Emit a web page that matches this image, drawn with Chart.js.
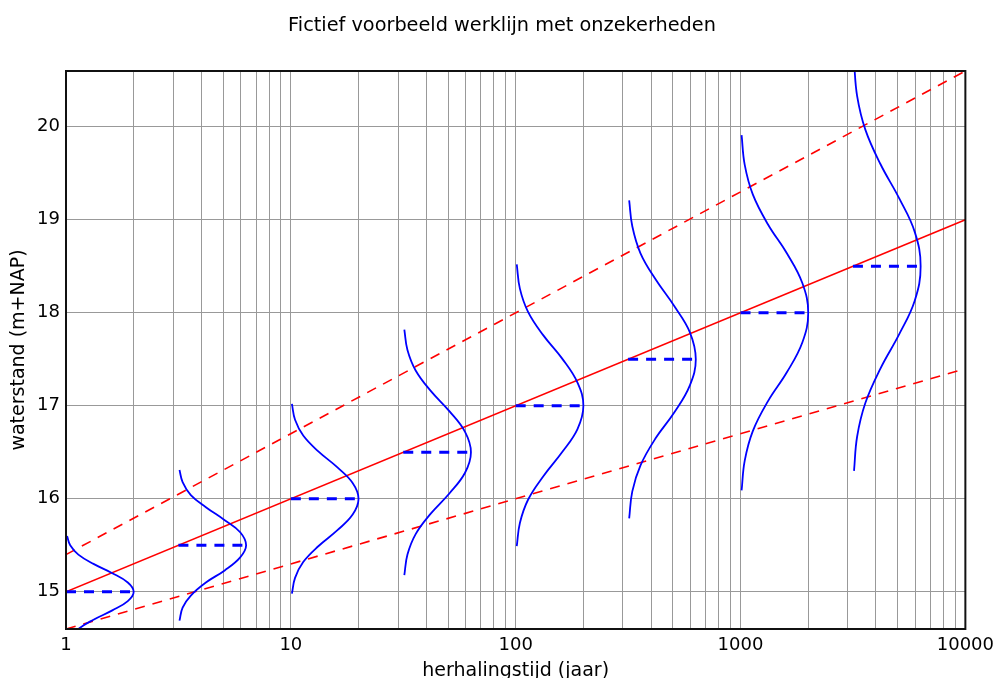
<!DOCTYPE html>
<html>
<head>
<meta charset="utf-8">
<script src="https://cdn.jsdelivr.net/npm/chart.js@4.4.1/dist/chart.umd.min.js"></script>
<style>
  body { margin: 0; background: #fff; }
</style>
</head>
<body>
<canvas id="werklijn" width="1000" height="678"></canvas>
<script>
// werklijn en betrouwbaarheidsgrenzen (twee punten, recht op log-as)
const lijnX = [1, 10000];
const werklijnY = [15, 19];
const bovengrensY = [15.4, 20.6];
const ondergrensY = [14.6, 17.4];

// gemiddelde waterstand per herhalingstijd (gestippelde streepjes)
const streepBeginX = [1, 3.162, 10, 31.62, 100, 316.2, 1000, 3162];
const streepEindX = [2, 6.325, 20, 63.25, 200, 632.5, 2000, 6325];
const streepY = [15, 15.5, 16, 16.5, 17, 17.5, 18, 18.5];

const krommeX = [
    [1.011, 1.044, 1.135, 1.325, 1.607, 1.883, 2.0, 1.883, 1.607, 1.325, 1.135, 1.044, 1.011],
    [3.197, 3.301, 3.590, 4.189, 5.080, 5.953, 6.325, 5.953, 5.080, 4.189, 3.590, 3.301, 3.197],
    [10.11, 10.44, 11.35, 13.25, 16.07, 18.83, 20.0, 18.83, 16.07, 13.25, 11.35, 10.44, 10.11],
    [31.97, 33.01, 35.90, 41.89, 50.80, 59.53, 63.25, 59.53, 50.80, 41.89, 35.90, 33.01, 31.97],
    [101.1, 104.4, 113.5, 132.5, 160.7, 188.3, 200, 188.3, 160.7, 132.5, 113.5, 104.4, 101.1],
    [319.7, 330.1, 359.0, 418.9, 508.0, 595.3, 632.5, 595.3, 508.0, 418.9, 359.0, 330.1, 319.7],
    [1011, 1044, 1135, 1325, 1607, 1883, 2000, 1883, 1607, 1325, 1135, 1044, 1011],
    [3197, 3301, 3590, 4189, 5080, 5953, 6325, 5953, 5080, 4189, 3590, 3301, 3197]
];
const krommeY = [
    [14.4, 14.5, 14.6, 14.7, 14.8, 14.9, 15.0, 15.1, 15.2, 15.3, 15.4, 15.5, 15.6],
    [14.69, 14.83, 14.96, 15.10, 15.23, 15.37, 15.5, 15.64, 15.77, 15.91, 16.04, 16.18, 16.31],
    [14.98, 15.15, 15.32, 15.49, 15.66, 15.83, 16.0, 16.17, 16.34, 16.51, 16.68, 16.85, 17.02],
    [15.18, 15.40, 15.62, 15.84, 16.06, 16.28, 16.5, 16.72, 16.94, 17.16, 17.38, 17.60, 17.82],
    [15.49, 15.74, 15.99, 16.24, 16.50, 16.75, 17.0, 17.25, 17.51, 17.76, 18.01, 18.26, 18.52],
    [15.79, 16.08, 16.36, 16.65, 16.93, 17.22, 17.5, 17.79, 18.07, 18.36, 18.64, 18.93, 19.21],
    [16.09, 16.41, 16.73, 17.05, 17.36, 17.68, 18.0, 18.32, 18.64, 18.95, 19.27, 19.59, 19.91],
    [16.30, 16.67, 17.03, 17.40, 17.77, 18.13, 18.5, 18.87, 19.23, 19.60, 19.97, 20.33, 20.70]
];

// as-indeling
const xTickWaarden = [1, 2, 3, 4, 5, 6, 7, 8, 9,
    10, 20, 30, 40, 50, 60, 70, 80, 90,
    100, 200, 300, 400, 500, 600, 700, 800, 900,
    1000, 2000, 3000, 4000, 5000, 6000, 7000, 8000, 9000, 10000];
const xTickLabels = { 1: '1', 10: '10', 100: '100', 1000: '1000', 10000: '10000' };
const yTickWaarden = [15, 16, 17, 18, 19, 20];

const titel = 'Fictief voorbeeld werklijn met onzekerheden';
const lettertype = 'DejaVu Sans';

function punten(xs, ys) {
    return xs.map((x, i) => ({ x: x, y: ys[i] }));
}

const datasets = [];

// blauwe krommen bovenop
krommeX.forEach((xs, k) => {
    datasets.push({
        data: punten(xs, krommeY[k]),
        borderColor: '#0000ff',
        borderWidth: 1.8,
        tension: 0.4,
        pointRadius: 0,
        showLine: true
    });
});

streepY.forEach((y, k) => {
    datasets.push({
        data: punten([streepBeginX[k], streepEindX[k]], [y, y]),
        borderColor: '#0000ff',
        borderWidth: 3,
        borderDash: [10, 8],
        pointRadius: 0,
        showLine: true
    });
});

datasets.push({
    data: punten(lijnX, werklijnY),
    borderColor: '#ff0000',
    borderWidth: 1.6,
    pointRadius: 0,
    showLine: true
});
datasets.push({
    data: punten(lijnX, bovengrensY),
    borderColor: '#ff0000',
    borderWidth: 1.6,
    borderDash: [10, 8],
    pointRadius: 0,
    showLine: true
});
datasets.push({
    data: punten(lijnX, ondergrensY),
    borderColor: '#ff0000',
    borderWidth: 1.6,
    borderDash: [10, 8],
    pointRadius: 0,
    showLine: true
});

// titel (gecentreerd op de figuur) en zwarte kader rond het grafiekgebied
const kader = {
    id: 'kader',
    afterDraw(chart) {
        const { ctx, chartArea } = chart;
        ctx.save();
        ctx.strokeStyle = '#111';
        ctx.lineWidth = 2;
        ctx.strokeRect(chartArea.left, chartArea.top,
            chartArea.right - chartArea.left, chartArea.bottom - chartArea.top);
        ctx.fillStyle = '#000';
        ctx.font = '19.3px "' + lettertype + '"';
        ctx.textAlign = 'center';
        ctx.textBaseline = 'alphabetic';
        ctx.fillText(titel, 502, 30.5);
        ctx.restore();
    }
};

new Chart(document.getElementById('werklijn'), {
    type: 'scatter',
    data: { datasets: datasets },
    plugins: [kader],
    options: {
        responsive: false,
        animation: false,
        layout: { padding: { left: 0, right: 33, top: 71, bottom: 0 } },
        plugins: {
            legend: { display: false },
            tooltip: { enabled: false },
            title: { display: false }
        },
        scales: {
            x: {
                type: 'logarithmic',
                position: 'bottom',
                min: 1,
                max: 10000,
                afterFit: (s) => { s.height = 49; },
                afterBuildTicks: (s) => { s.ticks = xTickWaarden.map(v => ({ value: v })); },
                grid: { color: '#999', lineWidth: 1, drawTicks: false },
                border: { display: false },
                ticks: {
                    autoSkip: false,
                    maxRotation: 0,
                    padding: 6,
                    color: '#000',
                    font: { family: lettertype, size: 18 },
                    callback: (v) => xTickLabels[v] || ''
                },
                title: {
                    display: true,
                    text: 'herhalingstijd (jaar)',
                    color: '#000',
                    font: { family: lettertype, size: 19, lineHeight: 0.5 },
                    padding: { top: 0, bottom: 2 }
                }
            },
            y: {
                type: 'linear',
                min: 14.6,
                max: 20.6,
                afterFit: (s) => { s.width = 66; },
                afterBuildTicks: (s) => { s.ticks = yTickWaarden.map(v => ({ value: v })); },
                grid: { color: '#999', lineWidth: 1, drawTicks: false },
                border: { display: false },
                ticks: {
                    padding: 6,
                    color: '#000',
                    font: { family: lettertype, size: 18 },
                    callback: (v) => String(v)
                },
                title: {
                    display: true,
                    text: 'waterstand (m+NAP)',
                    color: '#000',
                    font: { family: lettertype, size: 19 },
                    padding: { top: 8, bottom: 0 }
                }
            }
        }
    }
});
</script>
</body>
</html>
